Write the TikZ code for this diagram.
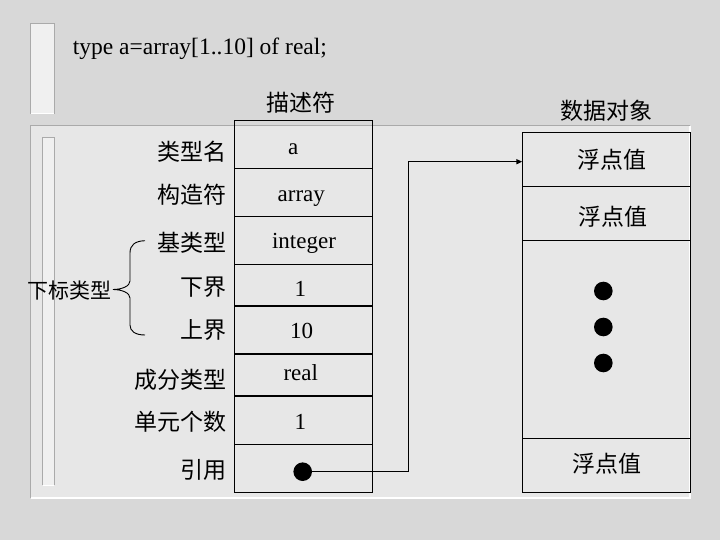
\documentclass[tikz,border=0pt]{standalone}
\usepackage{fontspec}
\setmainfont{Liberation Serif}
\newfontfamily\cjk{Noto Sans CJK SC}
\usetikzlibrary{arrows.meta}
\definecolor{bgc}{RGB}{216,216,216}
\definecolor{panelc}{RGB}{231,231,231}
\definecolor{barc}{RGB}{240,240,240}
\definecolor{edgec}{RGB}{170,170,170}
\begin{document}
\begin{tikzpicture}[x=1pt,y=-1pt,
  cellL/.style={draw=black,line width=1.3pt,minimum width=138pt,anchor=north west,inner sep=0pt,outer sep=0pt},
  cellR/.style={draw=black,line width=1.3pt,minimum width=168pt,anchor=north west,inner sep=0pt,outer sep=0pt},
  lab/.style={font=\cjk\fontsize{23}{23}\selectfont,anchor=base east,inner sep=0pt},
  head/.style={font=\cjk\fontsize{23}{23}\selectfont,anchor=base,inner sep=0pt},
  val/.style={font=\fontsize{23}{23}\selectfont,anchor=base,inner sep=0pt},
  blob/.style={circle,fill=black,minimum size=18.6pt,inner sep=0pt},
  link/.style={draw=black,line width=1.4pt,-{Triangle[length=6pt,width=5pt]}}]
\useasboundingbox (0,0) rectangle (720,540);
% background
\fill[bgc] (0,0) rectangle (720,540);
\fill[panelc] (30.7,126) rectangle (690,498);
\draw[edgec,line width=1pt] (30.7,498) -- (30.7,126) -- (690,126);
\draw[white,line width=1.3pt] (30.7,498) -- (690,498) -- (690,126);
\fill[barc] (30.7,24) rectangle (54,114);
\draw[edgec,line width=1pt] (30.7,114) -- (30.7,24) -- (54,24) -- (54,114);
\draw[white,line width=1pt] (30.7,114) -- (54,114);
\fill[barc] (42.7,137.3) rectangle (54,485);
\draw[edgec,line width=1pt] (42.7,485) -- (42.7,137.3) -- (54,137.3) -- (54,485);
\draw[white,line width=1pt] (42.7,485) -- (54,485);
% title
\node[font=\fontsize{23.5}{23.5}\selectfont,anchor=base west,inner sep=0pt] (title) at (72.7,55) {type a=array[1..10] of real;};
\node[head] (hdesc) at (301,111.7) {描述符};
\node[head] (hobj) at (606.5,119.4) {数据对象};
% left table
\node[cellL,minimum height=47.6pt] (c1) at (234.3,120.7) {};
\node[cellL,minimum height=48.4pt] (c2) at (234.3,168.3) {};
\node[cellL,minimum height=47.6pt] (c3) at (234.3,216.7) {};
\node[cellL,minimum height=41.7pt] (c4) at (234.3,264.3) {};
\node[cellL,minimum height=48pt] (c5) at (234.3,306) {};
\node[cellL,minimum height=42pt] (c6) at (234.3,354) {};
\node[cellL,minimum height=48.3pt] (c7) at (234.3,396) {};
\node[cellL,minimum height=48pt] (c8) at (234.3,444.3) {};
% values
\node[val] (v1) at (293.3,155) {a};
\node[val] (v2) at (301.3,201.7) {array};
\node[val] (v3) at (304,248.3) {integer};
\node[val] (v4) at (300.3,296.7) {1};
\node[val] (v5) at (301.7,338.3) {10};
\node[val] (v6) at (300.8,380) {real};
\node[val] (v7) at (300.3,429) {1};
\node[blob] (refdot) at (302.7,471.7) {};
% labels
\node[lab] (l1) at (227,160.4) {类型名};
\node[lab] (l2) at (227,203.7) {构造符};
\node[lab] (l3) at (227,251.4) {基类型};
\node[lab] (l4) at (227,295.4) {下界};
\node[lab] (l5) at (227,338.7) {上界};
\node[lab] (l6) at (227,388) {成分类型};
\node[lab] (l7) at (227,430.4) {单元个数};
\node[lab] (l8) at (227,478) {引用};
\node[font=\cjk\fontsize{21}{21}\selectfont,anchor=base,inner sep=0pt] (sub) at (69.2,298) {下标类型};
% brace
\draw[line width=0.9pt] (145,240.7) .. controls (135,241) and (130,245) .. (130,253) -- (130,281)
  .. controls (130,286) and (122,289.5) .. (113,289.5)
  .. controls (122,289.5) and (130,293) .. (130,298) -- (130,325)
  .. controls (130,331) and (135,335) .. (145,335);
% right table
\node[cellR,minimum height=54.4pt] (o1) at (522.3,132.3) {};
\node[cellR,minimum height=53.6pt] (o2) at (522.3,186.7) {};
\node[cellR,minimum height=198pt] (o3) at (522.3,240.3) {};
\node[cellR,minimum height=54pt] (o4) at (522.3,438.3) {};
\node[head] (f1) at (611.7,168.7) {浮点值};
\node[head] (f2) at (612.5,225.4) {浮点值};
\node[head] (f4) at (606.7,472) {浮点值};
\node[blob] (d1) at (603.3,291) {};
\node[blob] (d2) at (603.3,327) {};
\node[blob] (d3) at (603.3,363) {};
% pointer
\coordinate (bend) at (408.3,161.7);
\draw[link] (refdot.center) -| (bend) -- (bend -| o1.west);
\end{tikzpicture}
\end{document}
